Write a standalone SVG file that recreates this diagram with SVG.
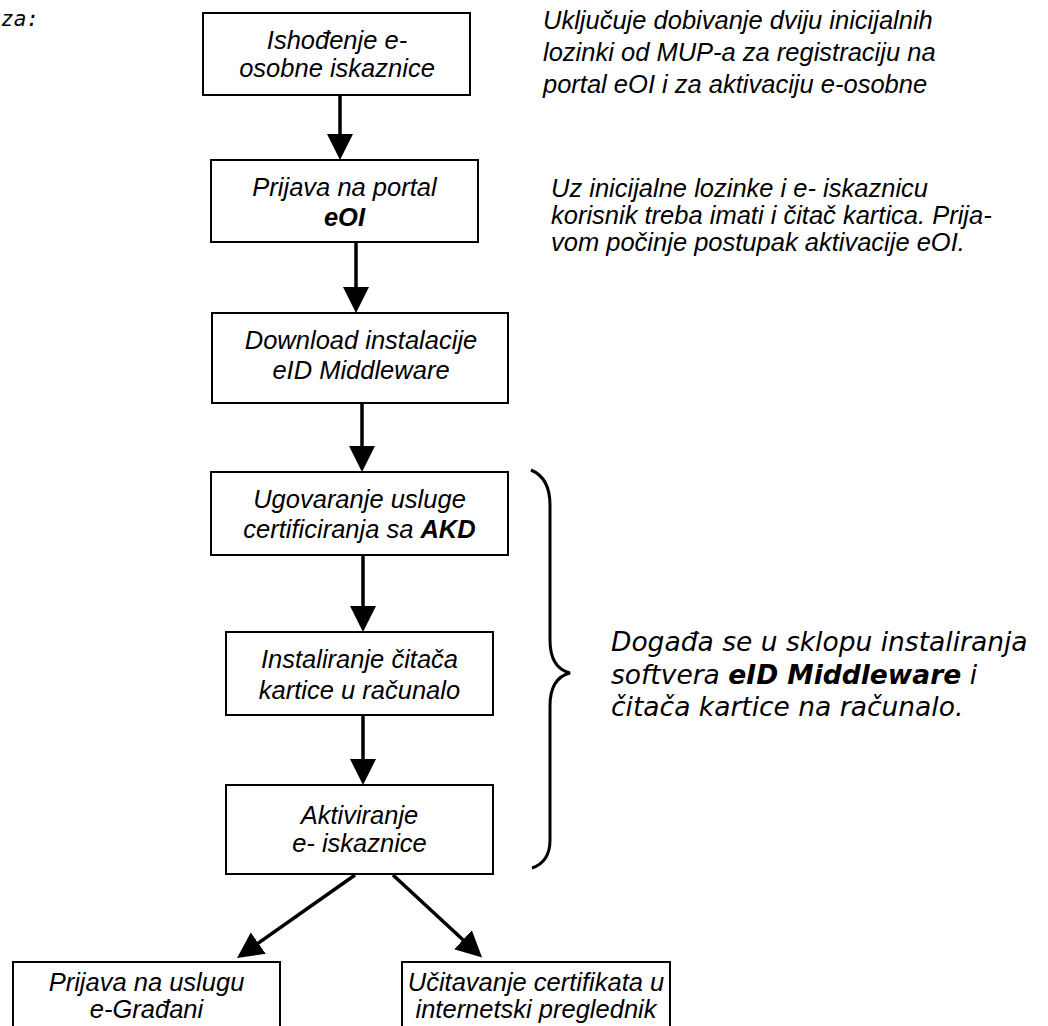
<svg xmlns="http://www.w3.org/2000/svg" width="1048" height="1026" viewBox="0 0 1048 1026">
<style>
.box{fill:#fff;stroke:#000;stroke-width:2}
.t{font-family:"Liberation Sans",Arial,sans-serif;font-style:italic;font-size:25.5px;fill:#000}
.c{text-anchor:middle}
.b{font-weight:bold}
.v{font-family:"DejaVu Sans",Verdana,sans-serif;font-style:italic;font-size:26.5px;fill:#000}
.m{font-family:"DejaVu Sans Mono","Liberation Mono",monospace;font-style:italic;font-size:21px;fill:#000}
.ln{stroke:#000;stroke-width:3.5;fill:none}
.brace{stroke:#000;stroke-width:3;fill:none}
</style>
<defs>
<marker id="ah" markerUnits="userSpaceOnUse" markerWidth="27" markerHeight="27" refX="15" refY="13" orient="auto">
<path d="M0,0 L26,13 L0,26 Z" fill="#000"/>
</marker>
</defs>
<rect width="1048" height="1026" fill="#fff"/>
<text class="m" x="1" y="26">za:</text>
<g id="connectors">
<line class="ln" x1="340" y1="95" x2="340" y2="149" marker-end="url(#ah)"/>
<line class="ln" x1="356" y1="242" x2="356" y2="302" marker-end="url(#ah)"/>
<line class="ln" x1="362" y1="403" x2="362" y2="461" marker-end="url(#ah)"/>
<line class="ln" x1="363" y1="555" x2="363" y2="621" marker-end="url(#ah)"/>
<line class="ln" x1="363" y1="715" x2="363" y2="774" marker-end="url(#ah)"/>
<line class="ln" x1="355" y1="875" x2="246" y2="951.7" marker-end="url(#ah)"/>
<line class="ln" x1="393" y1="875" x2="474" y2="950" marker-end="url(#ah)"/>
</g>
<g id="n1"><rect class="box" x="203" y="13" width="267" height="82"/>
<text class="t c" x="337" y="49">Ishođenje e-</text>
<text class="t c" x="337" y="77">osobne iskaznice</text></g>
<g id="n2"><rect class="box" x="211" y="160" width="267" height="82"/>
<text class="t c" x="344.5" y="196">Prijava na portal</text>
<text class="t c b" x="344.5" y="226">eOI</text></g>
<g id="n3"><rect class="box" x="212" y="313" width="296" height="90"/>
<text class="t c" x="361" y="349">Download instalacije</text>
<text class="t c" x="361" y="379">eID Middleware</text></g>
<g id="n4"><rect class="box" x="211" y="472" width="297" height="83"/>
<text class="t c" x="359.5" y="508">Ugovaranje usluge</text>
<text class="t c" x="359.5" y="538">certificiranja sa <tspan class="b">AKD</tspan></text></g>
<g id="n5"><rect class="box" x="226" y="632" width="267" height="83"/>
<text class="t c" x="359.5" y="668">Instaliranje čitača</text>
<text class="t c" x="359.5" y="699">kartice u računalo</text></g>
<g id="n6"><rect class="box" x="226" y="785" width="267" height="89"/>
<text class="t c" x="359.5" y="824">Aktiviranje</text>
<text class="t c" x="359.5" y="852">e- iskaznice</text></g>
<g id="n7"><rect class="box" x="13" y="962" width="267" height="80"/>
<text class="t c" x="146.5" y="991">Prijava na uslugu</text>
<text class="t c" x="146.5" y="1018">e-Građani</text></g>
<g id="n8"><rect class="box" x="402" y="962" width="268" height="80"/>
<text class="t c" x="536" y="991">Učitavanje certifikata u</text>
<text class="t c" x="536" y="1018">internetski preglednik</text></g>
<g id="note1">
<text class="t" x="543" y="29">Uključuje dobivanje dviju inicijalnih</text>
<text class="t" x="543" y="61">lozinki od MUP-a za registraciju na</text>
<text class="t" x="543" y="93">portal eOI i za aktivaciju e-osobne</text>
</g>
<g id="note2">
<text class="t" x="551" y="197">Uz inicijalne lozinke i e- iskaznicu</text>
<text class="t" x="551" y="224">korisnik treba imati i čitač kartica. Prija-</text>
<text class="t" x="551" y="251">vom počinje postupak aktivacije eOI.</text>
</g>
<g id="brace">
<path class="brace" d="M531,470 Q550,478 550,505 L550,640 Q550,668 570,673 Q550,678 550,706 L550,840 Q550,862 532,868"/>
</g>
<g id="note3">
<text class="v" x="611" y="651">Događa se u sklopu instaliranja</text>
<text class="v" x="611" y="684">softvera <tspan font-weight="bold">eID Middleware</tspan> i</text>
<text class="v" x="611" y="716">čitača kartice na računalo.</text>
</g>
</svg>
